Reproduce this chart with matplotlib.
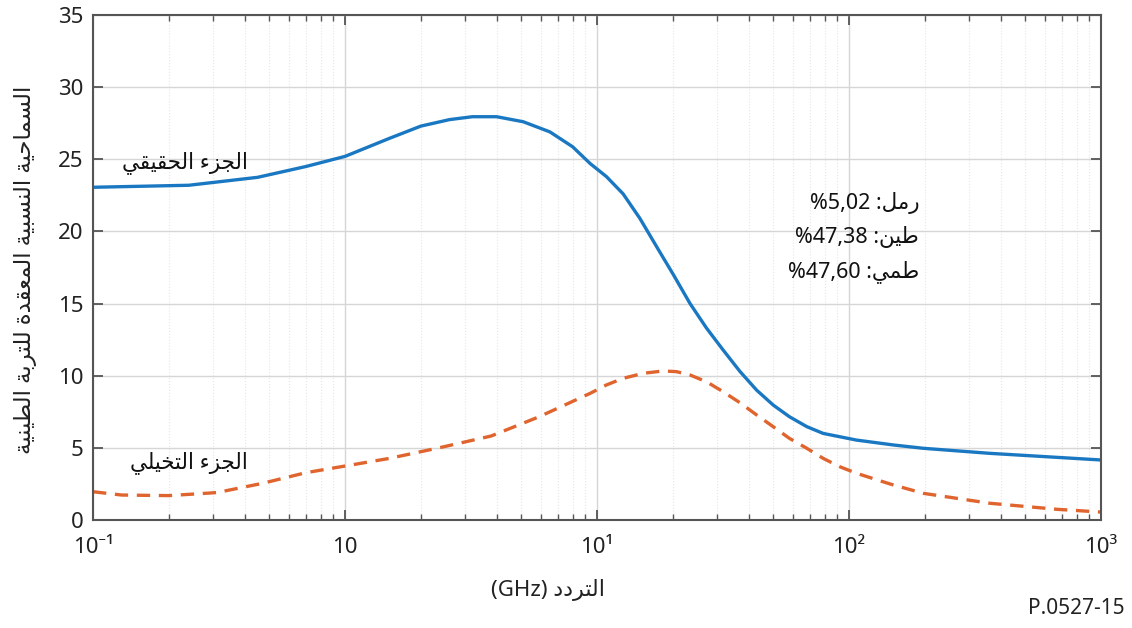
import numpy as np
import matplotlib
matplotlib.use("Agg")
import matplotlib.pyplot as plt
from matplotlib.ticker import FixedLocator, LogLocator, NullFormatter

plt.rcParams['font.family'] = ['Noto Sans', 'DejaVu Sans']

f_re = [0.1, 0.24, 0.45, 0.7, 1.0, 1.5, 2.0, 2.6, 3.2, 4.0, 5.1, 6.5, 8.0, 9.4, 10.9, 12.7,
        14.8, 17.3, 20.1, 23.4, 27.2, 31.6, 36.9, 43, 50, 58, 68, 79, 107, 150, 197, 362, 1000]
re = [23.06, 23.2, 23.75, 24.5, 25.2, 26.45, 27.3, 27.75, 27.95, 27.95, 27.6, 26.9, 25.87,
      24.7, 23.8, 22.6, 20.9, 18.9, 17.0, 15.0, 13.3, 11.8, 10.3, 9.0, 7.97, 7.16, 6.47,
      6.0, 5.54, 5.2, 4.97, 4.62, 4.16]

# imaginary part
f_im = [0.1, 0.13, 0.2, 0.31, 0.47, 0.7, 1.0, 1.5, 2.4, 3.8, 5.9, 9.4, 10.9, 12.7, 15.3,
        18.3, 20.7, 23.4, 27.2, 31.6, 36.9, 43, 50, 58, 68, 79, 92, 107, 146, 197, 362,
        670, 1000]
im = [1.96, 1.73, 1.69, 1.9, 2.54, 3.28, 3.74, 4.27, 5.03, 5.82, 7.16, 8.78, 9.36, 9.82,
      10.17, 10.33, 10.28, 10.05, 9.58, 8.9, 8.13, 7.28, 6.47, 5.66, 4.97, 4.27, 3.69,
      3.24, 2.49, 1.85, 1.16, 0.74, 0.55]

x_ticks = [0.1, 1, 10, 100, 1000]
x_ticklabels = ['10\u207b\u00b9', '10', '10\u00b9', '10\u00b2', '10\u00b3']
y_ticks = [0, 5, 10, 15, 20, 25, 30, 35]

soil = [('رمل', '%5,02'), ('طين', '%47,38'), ('طمي', '%47,60')]

# simple arabic shaping (matplotlib does no shaping on its own)
FORMS = {
    'ء': ('\uFE80', None, None, None),
    'ا': ('\uFE8D', '\uFE8E', None, None),
    'ب': ('\uFE8F', '\uFE90', '\uFE91', '\uFE92'),
    'ة': ('\uFE93', '\uFE94', None, None),
    'ت': ('\uFE95', '\uFE96', '\uFE97', '\uFE98'),
    'ج': ('\uFE9D', '\uFE9E', '\uFE9F', '\uFEA0'),
    'ح': ('\uFEA1', '\uFEA2', '\uFEA3', '\uFEA4'),
    'خ': ('\uFEA5', '\uFEA6', '\uFEA7', '\uFEA8'),
    'د': ('\uFEA9', '\uFEAA', None, None),
    'ر': ('\uFEAD', '\uFEAE', None, None),
    'ز': ('\uFEAF', '\uFEB0', None, None),
    'س': ('\uFEB1', '\uFEB2', '\uFEB3', '\uFEB4'),
    'ط': ('\uFEC1', '\uFEC2', '\uFEC3', '\uFEC4'),
    'ع': ('\uFEC9', '\uFECA', '\uFECB', '\uFECC'),
    'ق': ('\uFED5', '\uFED6', '\uFED7', '\uFED8'),
    'ل': ('\uFEDD', '\uFEDE', '\uFEDF', '\uFEE0'),
    'م': ('\uFEE1', '\uFEE2', '\uFEE3', '\uFEE4'),
    'ن': ('\uFEE5', '\uFEE6', '\uFEE7', '\uFEE8'),
    'ه': ('\uFEE9', '\uFEEA', '\uFEEB', '\uFEEC'),
    'و': ('\uFEED', '\uFEEE', None, None),
    'ي': ('\uFEF1', '\uFEF2', '\uFEF3', '\uFEF4'),
}


def shape(s):
    out = []
    for i, c in enumerate(s):
        if c not in FORMS:
            out.append(c)
            continue
        p = s[i - 1] if i > 0 else ''
        n = s[i + 1] if i + 1 < len(s) else ''
        prev_j = p in FORMS and FORMS[p][2] is not None
        next_j = n in FORMS and FORMS[n][1] is not None and FORMS[c][2] is not None
        iso, fin, ini, med = FORMS[c]
        if prev_j and next_j:
            out.append(med)
        elif prev_j:
            out.append(fin)
        elif next_j:
            out.append(ini)
        else:
            out.append(iso)
    return ''.join(out)[::-1]


blue = '#1a78c2'
orange = '#e0642e'

fig = plt.figure(figsize=(11.32, 6.28), dpi=100)
ax = fig.add_axes([93 / 1132, 1 - 520 / 628, 1008 / 1132, 505 / 628])

ax.plot(f_re, re, color=blue, lw=2.4, solid_capstyle='round')
ax.plot(f_im, im, color=orange, lw=2.4, dashes=(4, 2.6))

ax.set_xscale('log')
ax.set_xlim(0.1, 1000)
ax.set_ylim(0, 35)
ax.xaxis.set_major_locator(FixedLocator(x_ticks))
ax.set_xticklabels(x_ticklabels)
ax.xaxis.set_minor_locator(LogLocator(base=10, subs=np.arange(2, 10)))
ax.xaxis.set_minor_formatter(NullFormatter())
ax.set_yticks(y_ticks)

ax.grid(which='major', color='#d6d6d6', lw=1.0)
ax.grid(which='minor', axis='x', color='#e6e6e6', lw=0.8, ls=':')
ax.set_axisbelow(True)

for sp in ax.spines.values():
    sp.set_color('#555555')
    sp.set_linewidth(1.5)
ax.tick_params(which='both', direction='in', top=True, right=True, colors='#555555',
               labelcolor='#222222', labelsize=16)
ax.tick_params(which='major', length=7, width=1.3)
ax.tick_params(which='minor', length=4, width=1.0)
ax.tick_params(axis='x', pad=12)
ax.tick_params(axis='y', pad=7)

ax.text(0.232, 24.8, shape('الجزء الحقيقي'), fontsize=15.5, ha='center', va='center', color='#111111')
ax.text(0.24, 3.95, shape('الجزء التخيلي'), fontsize=15.5, ha='center', va='center', color='#111111')

for i, (name, val) in enumerate(soil):
    ax.text(190, 21.95 - i * 2.35, val + ' :' + shape(name), fontsize=15.5, ha='right',
            va='center', color='#111111')

fig.text(25 / 1132, 1 - 270 / 628, shape('السماحية النسبية المعقدة للتربة الطينية'),
         rotation=90, fontsize=16.5, ha='center', va='center', color='#222222')
fig.text(548 / 1132, 1 - 590 / 628, '(GHz) ' + shape('التردد'), fontsize=16,
         ha='center', va='center', color='#222222')
fig.text(1125 / 1132, 1 - 608 / 628, 'P.0527-15', fontsize=15, ha='right',
         va='center', color='#222222')

fig.savefig('out.png', dpi=100)
